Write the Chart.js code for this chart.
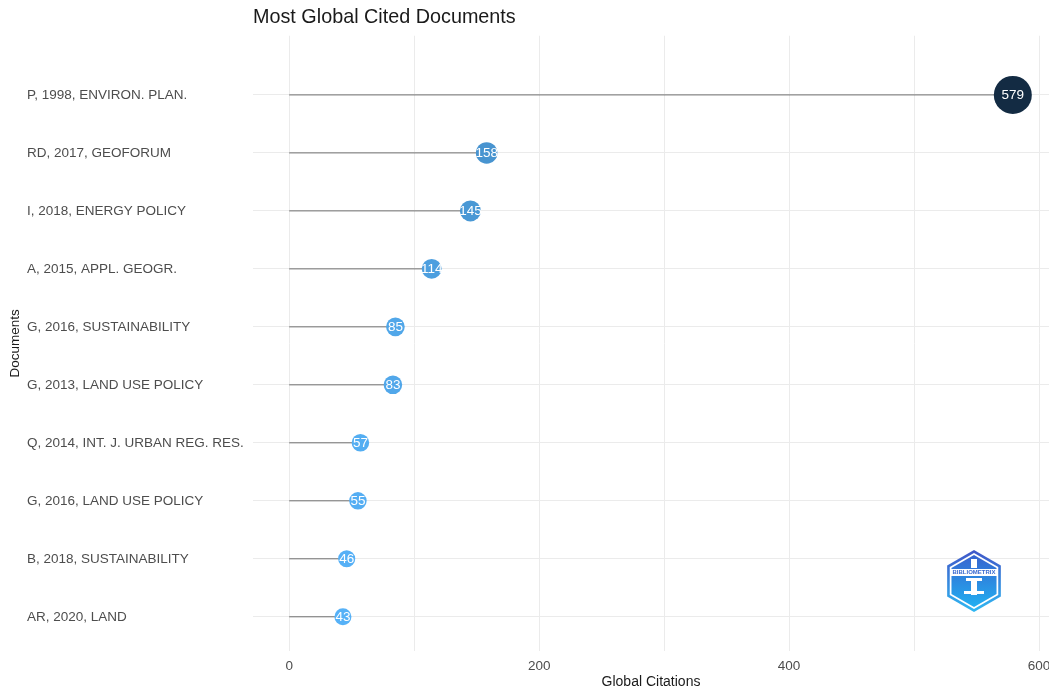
<!DOCTYPE html>
<html>
<head>
<meta charset="utf-8">
<script src="https://cdn.jsdelivr.net/npm/chart.js@4/dist/chart.umd.min.js"></script>
<style>
  html, body { margin: 0; padding: 0; background: #ffffff; }
  #wrap { width: 1049px; height: 691px; position: relative; }
</style>
</head>
<body>
<div id="wrap"><canvas id="c"></canvas></div>
<script>
// ---- data ----
const documents = [
  "P, 1998, ENVIRON. PLAN.",
  "RD, 2017, GEOFORUM",
  "I, 2018, ENERGY POLICY",
  "A, 2015, APPL. GEOGR.",
  "G, 2016, SUSTAINABILITY",
  "G, 2013, LAND USE POLICY",
  "Q, 2014, INT. J. URBAN REG. RES.",
  "G, 2016, LAND USE POLICY",
  "B, 2018, SUSTAINABILITY",
  "AR, 2020, LAND"
];
const citations = [579, 158, 145, 114, 85, 83, 57, 55, 46, 43];
const xTicks = [0, 100, 200, 300, 400, 500, 600];
const xTickLabels = ["0", "", "200", "", "400", "", "600"];

const FONT = "'Liberation Sans', Arial, Helvetica, sans-serif";
const vMin = Math.min(...citations), vMax = Math.max(...citations);
const lowCol = [0x56, 0xB1, 0xF7], highCol = [0x13, 0x2B, 0x43];
function colorFor(v) {
  const t = (v - vMin) / (vMax - vMin);
  const c = lowCol.map((l, i) => Math.round(l + (highCol[i] - l) * t));
  return `rgb(${c[0]},${c[1]},${c[2]})`;
}
function radiusFor(v) {
  const t = (v - vMin) / (vMax - vMin);
  return 8.5 + t * 10.5;
}

const pointData = citations.map((v, i) => ({ x: v, y: i }));
const segmentSets = citations.map((v, i) => ({
  type: 'line',
  data: [{ x: 0, y: i }, { x: v, y: i }],
  borderColor: 'rgba(80,80,80,0.8)',
  borderWidth: 1,
  pointRadius: 0,
  pointHoverRadius: 0,
  showLine: true,
  order: 2
}));

const labelPlugin = {
  id: 'bubbleLabels',
  afterDatasetsDraw(chart) {
    const meta = chart.getDatasetMeta(0);
    const ctx = chart.ctx;
    ctx.save();
    ctx.font = `13.5px ${FONT}`;
    ctx.fillStyle = '#ffffff';
    ctx.textAlign = 'center';
    ctx.textBaseline = 'middle';
    meta.data.forEach((el, i) => {
      ctx.fillText(String(citations[i]), el.x, el.y + 0.5);
    });
    ctx.restore();
  }
};

const extrasPlugin = {
  id: 'extras',
  afterDraw(chart) {
    const ctx = chart.ctx;
    const area = chart.chartArea;
    ctx.save();
    // y axis title
    ctx.translate(15, (area.top + area.bottom) / 2);
    ctx.rotate(-Math.PI / 2);
    ctx.font = `13.5px ${FONT}`;
    ctx.fillStyle = '#1a1a1a';
    ctx.textAlign = 'center';
    ctx.textBaseline = 'middle';
    ctx.fillText('Documents', 0, 0);
    ctx.restore();

    // logo hexagon (bottom right)
    const cx = 974, cy = 581, R = 31;
    const hex = (r) => {
      ctx.beginPath();
      for (let k = 0; k < 6; k++) {
        const a = Math.PI / 180 * (60 * k - 90);
        const px = cx + r * Math.cos(a), py = cy + r * Math.sin(a);
        if (k === 0) ctx.moveTo(px, py); else ctx.lineTo(px, py);
      }
      ctx.closePath();
    };
    ctx.save();
    let g = ctx.createLinearGradient(0, cy - R, 0, cy + R);
    g.addColorStop(0, '#4056c8');
    g.addColorStop(1, '#2fb8f2');
    hex(R);
    ctx.fillStyle = g;
    ctx.fill();
    hex(R - 3);
    ctx.fillStyle = '#ffffff';
    ctx.fill();
    hex(R - 5);
    g = ctx.createLinearGradient(0, cy - R, 0, cy + R);
    g.addColorStop(0, '#3a5ccc');
    g.addColorStop(1, '#1fb6f4');
    ctx.fillStyle = g;
    ctx.fill();
    ctx.fillStyle = '#ffffff';
    ctx.fillRect(cx - 24, cy - 12, 48, 7);
    ctx.fillStyle = '#3a6ad0';
    ctx.font = `bold 6px ${FONT}`;
    ctx.textAlign = 'center';
    ctx.textBaseline = 'middle';
    ctx.fillText('BIBLIOMETRIX', cx, cy - 8.5);
    ctx.fillStyle = '#ffffff';
    ctx.fillRect(cx - 3, cy - 22, 6, 9);
    ctx.fillRect(cx - 8, cy - 3, 16, 3);
    ctx.fillRect(cx - 3, cy, 6, 14);
    ctx.fillRect(cx - 10, cy + 10, 20, 3);
    ctx.restore();
  }
};

new Chart(document.getElementById('c'), {
  type: 'scatter',
  data: {
    datasets: [
      {
        data: pointData,
        pointRadius: (ctx) => radiusFor(citations[ctx.dataIndex]),
        pointHoverRadius: (ctx) => radiusFor(citations[ctx.dataIndex]),
        pointBackgroundColor: (ctx) => colorFor(citations[ctx.dataIndex]),
        pointBorderWidth: 0,
        pointBorderColor: 'rgba(0,0,0,0)',
        order: 1
      },
      ...segmentSets
    ]
  },
  options: {
    responsive: true,
    maintainAspectRatio: false,
    animation: false,
    events: [],
    layout: { autoPadding: false, padding: { left: 27, right: 0, top: 0, bottom: 0 } },
    plugins: {
      legend: { display: false },
      tooltip: { enabled: false },
      title: {
        display: true,
        text: 'Most Global Cited Documents',
        align: 'start',
        fullSize: false,
        color: '#1a1a1a',
        font: { family: FONT, size: 19.8, weight: 'normal' },
        padding: { top: 6, bottom: 6 }
      }
    },
    scales: {
      x: {
        type: 'linear',
        min: -28.95,
        max: 607.95,
        afterBuildTicks(scale) { scale.ticks = xTicks.map(v => ({ value: v })); },
        afterFit(scale) { scale.height = 40; scale.paddingRight = 0; scale.paddingLeft = 0; },
        ticks: {
          callback: (v, i) => xTickLabels[i],
          color: '#4d4d4d',
          font: { family: FONT, size: 13.5 },
          padding: 7,
          maxRotation: 0,
          autoSkip: false
        },
        grid: { color: '#ebebeb', lineWidth: 1, drawTicks: false },
        border: { display: false },
        title: {
          display: true,
          text: 'Global Citations',
          color: '#1a1a1a',
          font: { family: FONT, size: 14 },
          padding: { top: 0, bottom: 0 }
        }
      },
      y: {
        type: 'linear',
        reverse: true,
        min: -1.02,
        max: 9.59,
        afterBuildTicks(scale) { scale.ticks = documents.map((d, i) => ({ value: i })); },
        afterFit(scale) { scale.width = 253 - 27; scale.paddingTop = 0; scale.paddingBottom = 0; },
        ticks: {
          callback: (v, i) => documents[i],
          crossAlign: 'far',
          color: '#4d4d4d',
          font: { family: FONT, size: 13.5 },
          autoSkip: false
        },
        grid: { color: '#ebebeb', lineWidth: 1, drawTicks: false },
        border: { display: false }
      }
    }
  },
  plugins: [labelPlugin, extrasPlugin]
});
</script>
</body>
</html>
